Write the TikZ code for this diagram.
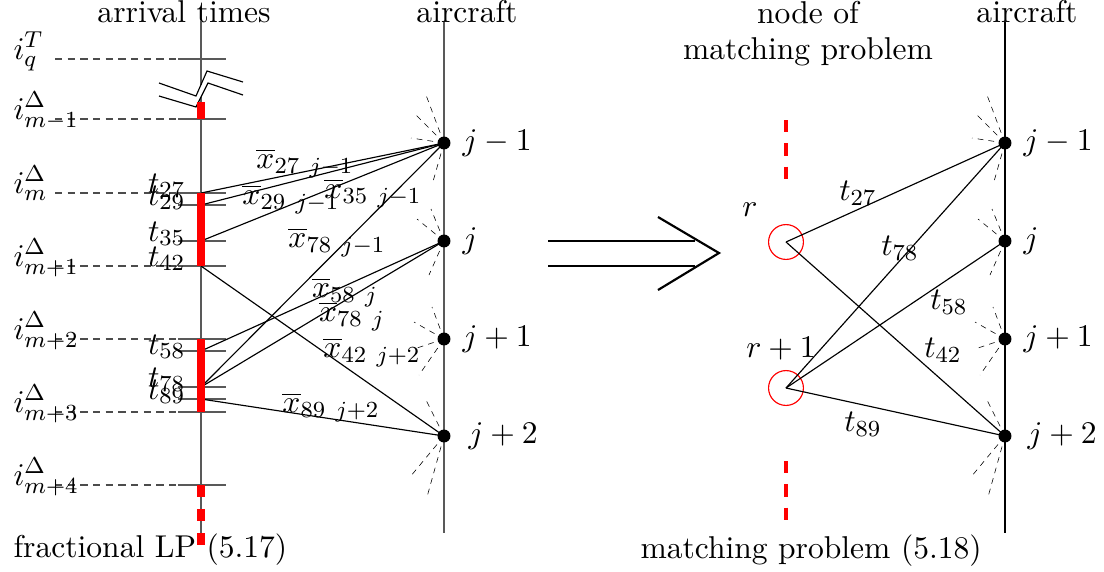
\documentclass[tikz,border=0pt,11pt]{standalone}
\usepackage{amsmath}
\usepackage{amssymb}
\usepackage{xcolor}
\usepackage{tikz}
\usetikzlibrary{arrows.meta, positioning, calc}

\tikzset{
  axisline/.style={black!65, thin},
  tickline/.style={black!65, thin},
  guide/.style={black!70, thin, dash pattern=on 2.5pt off 1.9pt},
  ray/.style={black, very thin, dash pattern=on 2pt off 1.8pt},
  plane/.style={circle, fill=black, inner sep=0pt, minimum size=4.5pt},
  slot/.style={circle, draw=red, thin, inner sep=0pt, minimum size=12.1pt},
  redbar/.style={red, line width=2.8pt},
  reddash/.style={red, line width=1.15pt, dash pattern=on 4.3pt off 3.8pt},
  edge/.style={black, thin},
  bigarrow/.style={black, line width=0.75pt},
}

\begin{document}
\begin{tikzpicture}[x=0.347pt, y=-0.347pt]
  \useasboundingbox (0,0) rectangle (1104,571);

  % Headings
  \node[anchor=base] (hdr-arr) at (184,22) {arrival times};
  \node[anchor=base] (hdr-acl) at (467,22) {aircraft};
  \node[anchor=base] (hdr-node) at (808,23) {node of};
  \node[anchor=base] (hdr-match) at (808,59) {matching problem};
  \node[anchor=base] (hdr-acr) at (1027,22) {aircraft};

  % Time axis with break
  \draw[axisline] (201,21) -- (201,85);
  \draw[axisline] (201,97) -- (201,545);
  \draw[thin] (159,83) -- (196,96) -- (207,71) -- (243,82);
  \draw[thin] (159,96) -- (196,107) -- (208,83) -- (243,95);
  \foreach \y in {59,119,193,205,241,266,339,351,387,399,412,485}
    \draw[tickline] (178,\y) -- (226,\y);
  \foreach \y in {59,119,193,266,339,412,485}
    \draw[guide] (55,\y) -- (178,\y);

  % Slot labels
  \node[anchor=base west, inner sep=0pt] (iq) at (13,59) {$i^{T}_{q}$};
  \node[anchor=base west, inner sep=0pt] (im0) at (13,119) {$i^{\Delta}_{m-1}$};
  \node[anchor=base west, inner sep=0pt] (im1) at (13,193) {$i^{\Delta}_{m}$};
  \node[anchor=base west, inner sep=0pt] (im2) at (13,266) {$i^{\Delta}_{m+1}$};
  \node[anchor=base west, inner sep=0pt] (im3) at (13,339) {$i^{\Delta}_{m+2}$};
  \node[anchor=base west, inner sep=0pt] (im4) at (13,412) {$i^{\Delta}_{m+3}$};
  \node[anchor=base west, inner sep=0pt] (im5) at (13,485) {$i^{\Delta}_{m+4}$};

  % Arrival times
  \coordinate (t27) at (201,193);
  \coordinate (t29) at (201,205);
  \coordinate (t35) at (201,241);
  \coordinate (t42) at (201,266);
  \coordinate (t58) at (201,351);
  \coordinate (t78) at (201,387);
  \coordinate (t89) at (201,399);
  \node[anchor=base east, inner sep=0pt] at (186,193) {$t_{27}$};
  \node[anchor=base east, inner sep=0pt] at (186,205) {$t_{29}$};
  \node[anchor=base east, inner sep=0pt] at (186,241) {$t_{35}$};
  \node[anchor=base east, inner sep=0pt] at (186,266) {$t_{42}$};
  \node[anchor=base east, inner sep=0pt] at (186,354) {$t_{58}$};
  \node[anchor=base east, inner sep=0pt] at (186,387) {$t_{78}$};
  \node[anchor=base east, inner sep=0pt] at (186,399) {$t_{89}$};

  % Aircraft axes
  \draw[axisline] (444,22) -- (444,533);
  \draw[edge] (1005,22) -- (1005,533);
  \node[plane] (a1) at (444,143) {};
  \node[plane] (a2) at (444,241) {};
  \node[plane] (a3) at (444,339) {};
  \node[plane] (a4) at (444,436) {};
  \node[plane] (b1) at (1005,143) {};
  \node[plane] (b2) at (1005,241) {};
  \node[plane] (b3) at (1005,339) {};
  \node[plane] (b4) at (1005,436) {};
  \foreach \n in {a1,b1}
    \foreach \dx/\dy in {-18/-48,-30/-30,-33/-5,-12/42}
      \draw[ray] (\n.center) -- ++(\dx,\dy);
  \foreach \n in {a2,b2}
    \foreach \dx/\dy in {-13/-32,-27/-22,-15/34}
      \draw[ray] (\n.center) -- ++(\dx,\dy);
  \foreach \n in {a3,b3}
    \foreach \dx/\dy in {-12/-32,-30/-17,-30/10,-25/36}
      \draw[ray] (\n.center) -- ++(\dx,\dy);
  \foreach \n in {a4,b4}
    \foreach \dx/\dy in {-18/-36,-34/41,-17/61}
      \draw[ray] (\n.center) -- ++(\dx,\dy);
  \foreach \n/\t in {a1/j-1,a2/j,a3/j+1,b1/j-1,b2/j,b3/j+1}
    \node[anchor=west, inner sep=0pt] at ($(\n.center)+(18,0)$) {$\t$};
  \node[anchor=west, inner sep=0pt] at ($(a4.center)+(24,0)$) {$j+2$};
  \node[anchor=west, inner sep=0pt] at ($(b4.center)+(22,0)$) {$j+2$};

  % Fractional LP edges
  \draw[edge] (t27) -- (a1.center);
  \draw[edge] (t29) -- (a1.center);
  \draw[edge] (t35) -- (a1.center);
  \draw[edge] (t78) -- (a1.center);
  \draw[edge] (t58) -- (a2.center);
  \draw[edge] (t78) -- (a2.center);
  \draw[edge] (t42) -- (a4.center);
  \draw[edge] (t89) -- (a4.center);
  \node at (305,163) {$\overline{x}_{27\ j-1}$};
  \node at (291,199) {$\overline{x}_{29\ j-1}$};
  \node at (373,193) {$\overline{x}_{35\ j-1}$};
  \node at (337,242) {$\overline{x}_{78\ j-1}$};
  \node at (345,292) {$\overline{x}_{58\ j}$};
  \node at (352,316) {$\overline{x}_{78\ j}$};
  \node at (372,352) {$\overline{x}_{42\ j+2}$};
  \node at (331,407) {$\overline{x}_{89\ j+2}$};

  % Red occupied slots
  \draw[redbar] (201,102) -- (201,119);
  \draw[redbar] (201,193) -- (201,266);
  \draw[redbar] (201,339) -- (201,412);
  \draw[redbar, dash pattern=on 4.2pt off 4.2pt] (201,485) -- (201,545);

  % Double arrow
  \draw[bigarrow] (548,241) -- (695,241);
  \draw[bigarrow] (548,266) -- (695,266);
  \draw[bigarrow] (658,217) -- (719,253) -- (658,290);

  % Matching problem
  \node[slot] (r) at (786,242) {};
  \node[slot] (rr) at (786,388) {};
  \node at (750,210) {$r$};
  \node at (781,349) {$r+1$};
  \draw[reddash] (786,120) -- (786,180);
  \draw[reddash] (786,461) -- (786,521);
  \draw[edge] (r.center) -- (b1.center);
  \draw[edge] (r.center) -- (b4.center);
  \draw[edge] (rr.center) -- (b1.center);
  \draw[edge] (rr.center) -- (b2.center);
  \draw[edge] (rr.center) -- (b4.center);
  \node at (858,193) {$t_{27}$};
  \node at (900,248) {$t_{78}$};
  \node at (949,302) {$t_{58}$};
  \node at (943,350) {$t_{42}$};
  \node at (863,424) {$t_{89}$};

  % Captions
  \node[anchor=base west, inner sep=0pt] (cap-lp) at (13,557) {fractional LP (5.17)};
  \node[anchor=base west, inner sep=0pt] (cap-mp) at (640,558) {matching problem (5.18)};
\end{tikzpicture}
\end{document}
